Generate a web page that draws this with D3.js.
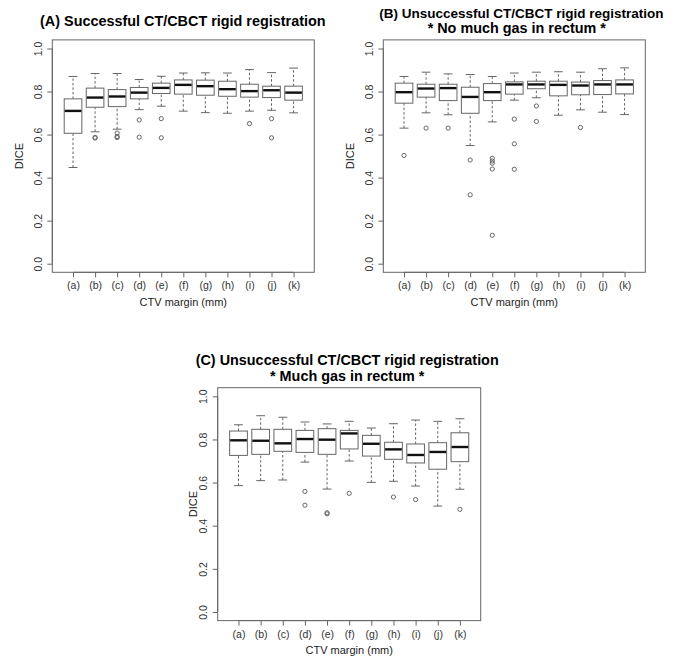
<!DOCTYPE html>
<html>
<head>
<meta charset="utf-8">
<script src="https://cdn.jsdelivr.net/npm/d3@7"></script>
<style>
  html, body { margin: 0; padding: 0; background: #fff; }
  svg { display: block; font-family: "Liberation Sans", Arial, Helvetica, sans-serif; }
</style>
</head>
<body>
<svg id="chart" width="680" height="662"></svg>
<script>
// ---- data ----
const categories = ["(a)", "(b)", "(c)", "(d)", "(e)", "(f)", "(g)", "(h)", "(i)", "(j)", "(k)"];
const yTicks = [0.0, 0.2, 0.4, 0.6, 0.8, 1.0];
const xLabel = "CTV margin (mm)";
const yLabel = "DICE";

// [lower whisker, Q1, median, Q3, upper whisker]
const statsA = [
  [0.447, 0.606, 0.710, 0.766, 0.870],
  [0.613, 0.727, 0.772, 0.816, 0.884],
  [0.625, 0.730, 0.777, 0.809, 0.884],
  [0.716, 0.766, 0.795, 0.819, 0.856],
  [0.732, 0.791, 0.817, 0.839, 0.871],
  [0.709, 0.788, 0.831, 0.854, 0.886],
  [0.702, 0.783, 0.825, 0.853, 0.887],
  [0.699, 0.778, 0.811, 0.848, 0.886],
  [0.709, 0.774, 0.802, 0.834, 0.902],
  [0.713, 0.772, 0.806, 0.825, 0.888],
  [0.701, 0.760, 0.795, 0.825, 0.909]
];
const outliersA = [
  [], [0.587, 0.584], [0.607, 0.591, 0.586], [0.668, 0.588], [0.674, 0.585],
  [], [], [], [0.651], [0.674, 0.585], []
];

const statsB = [
  [0.630, 0.746, 0.797, 0.839, 0.870],
  [0.701, 0.774, 0.814, 0.834, 0.890],
  [0.692, 0.758, 0.816, 0.834, 0.882],
  [0.549, 0.699, 0.775, 0.820, 0.879],
  [0.659, 0.758, 0.797, 0.837, 0.870],
  [0.760, 0.788, 0.833, 0.845, 0.886],
  [0.771, 0.813, 0.833, 0.848, 0.890],
  [0.690, 0.780, 0.831, 0.848, 0.892],
  [0.715, 0.785, 0.828, 0.844, 0.890],
  [0.704, 0.786, 0.833, 0.851, 0.906],
  [0.693, 0.789, 0.833, 0.854, 0.910]
];
const outliersB = [
  [0.503], [0.630], [0.630], [0.482, 0.320], [0.490, 0.477, 0.467, 0.440, 0.132],
  [0.672, 0.557, 0.439], [0.733, 0.661], [], [0.633], [], []
];

const statsC = [
  [0.586, 0.726, 0.796, 0.839, 0.868],
  [0.609, 0.731, 0.794, 0.847, 0.910],
  [0.612, 0.745, 0.782, 0.847, 0.903],
  [0.695, 0.740, 0.802, 0.842, 0.881],
  [0.570, 0.731, 0.799, 0.850, 0.872],
  [0.700, 0.756, 0.828, 0.842, 0.884],
  [0.601, 0.723, 0.780, 0.819, 0.853],
  [0.606, 0.708, 0.754, 0.787, 0.873],
  [0.584, 0.691, 0.728, 0.779, 0.890],
  [0.491, 0.662, 0.742, 0.785, 0.884],
  [0.569, 0.697, 0.765, 0.831, 0.896]
];
const outliersC = [
  [], [], [], [0.559, 0.495], [0.460, 0.455], [0.550], [], [0.533], [0.521], [], [0.476]
];

const titlesA = ["(A) Successful CT/CBCT rigid registration"];
const titlesB = ["(B) Unsuccessful CT/CBCT rigid registration", "* No much gas in rectum *"];
const titlesC = ["(C) Unsuccessful CT/CBCT rigid registration", "* Much gas in rectum *"];

// ---- layout ----
const panels = [
  { stats: statsA, outliers: outliersA, titles: titlesA, left: 52.3, right: 314.3, top: 39.9, bottom: 272.3,
    titleBase: [26], titleSize: [14.4], titleShift: [-0.5], diceOff: 29.6 },
  { stats: statsB, outliers: outliersB, titles: titlesB, left: 383.3, right: 645.3, top: 39.9, bottom: 272.3,
    titleBase: [18.3, 33.3], titleSize: [13.5, 14.4], titleShift: [7, 2.5], diceOff: 29.3 },
  { stats: statsC, outliers: outliersC, titles: titlesC, left: 217.7, right: 480.7, top: 387.7, bottom: 620.6,
    titleBase: [365, 380.5], titleSize: [14.4, 14.4], titleShift: [-2, -2], diceOff: 21 }
];

const svg = d3.select("#chart");
const boxColor = "#666";
const frameColor = "#666";

panels.forEach(p => {
  const g = svg.append("g");
  const x = d3.scaleLinear().domain([0.06, 11.94]).range([p.left, p.right]);
  const y = d3.scaleLinear().domain([-0.04, 1.04]).range([p.bottom, p.top]);
  const idx = d3.range(1, categories.length + 1);
  const step = x(2) - x(1);
  const bw = 0.8 * step;
  const cw = 0.5 * bw;

  const items = p.stats.map((s, i) => ({ s, i, cx: x(i + 1) }));
  // whiskers (dashed)
  g.selectAll(".wl").data(items).join("line")
    .attr("x1", d => d.cx).attr("x2", d => d.cx)
    .attr("y1", d => y(d.s[0])).attr("y2", d => y(d.s[1]))
    .attr("stroke", boxColor).attr("stroke-width", 1).attr("stroke-dasharray", "2.5,2");
  g.selectAll(".wu").data(items).join("line")
    .attr("x1", d => d.cx).attr("x2", d => d.cx)
    .attr("y1", d => y(d.s[3])).attr("y2", d => y(d.s[4]))
    .attr("stroke", boxColor).attr("stroke-width", 1).attr("stroke-dasharray", "2.5,2");
  // caps
  [0, 4].forEach(k => {
    g.selectAll(".cap" + k).data(items).join("line")
      .attr("x1", d => d.cx - cw / 2).attr("x2", d => d.cx + cw / 2)
      .attr("y1", d => y(d.s[k])).attr("y2", d => y(d.s[k]))
      .attr("stroke", boxColor).attr("stroke-width", 1);
  });
  // boxes
  g.selectAll(".box").data(items).join("rect")
    .attr("x", d => d.cx - bw / 2).attr("width", bw)
    .attr("y", d => y(d.s[3])).attr("height", d => y(d.s[1]) - y(d.s[3]))
    .attr("fill", "#fff").attr("stroke", boxColor).attr("stroke-width", 1);
  // medians
  g.selectAll(".med").data(items).join("line")
    .attr("x1", d => d.cx - bw / 2 + 0.5).attr("x2", d => d.cx + bw / 2 - 0.5)
    .attr("y1", d => y(d.s[2])).attr("y2", d => y(d.s[2]))
    .attr("stroke", "#111").attr("stroke-width", 2.4);
  // outliers
  const pts = [];
  p.outliers.forEach((arr, i) => arr.forEach(v => pts.push({ cx: x(i + 1), v })));
  g.selectAll(".out").data(pts).join("circle")
    .attr("cx", d => d.cx).attr("cy", d => y(d.v)).attr("r", 2.1)
    .attr("fill", "none").attr("stroke", boxColor).attr("stroke-width", 1);

  // frame
  g.append("rect")
    .attr("x", p.left).attr("y", p.top)
    .attr("width", p.right - p.left).attr("height", p.bottom - p.top)
    .attr("fill", "none").attr("stroke", frameColor).attr("stroke-width", 1);

  // x axis
  const xAxis = d3.axisBottom(x).tickValues(idx).tickFormat(d => categories[d - 1])
    .tickSize(5).tickSizeOuter(0);
  const xa = g.append("g").attr("transform", `translate(0,${p.bottom})`).call(xAxis);
  xa.select(".domain").attr("d", `M${x(1)},0H${x(11)}`).attr("stroke", frameColor);
  xa.selectAll(".tick line").attr("stroke", frameColor);
  xa.selectAll(".tick text").attr("y", 17).attr("dy", null)
    .attr("font-size", 10.5).attr("fill", "#333")
    .attr("font-family", "Liberation Sans, Arial, sans-serif");

  // y axis
  const yAxis = d3.axisLeft(y).tickValues(yTicks).tickFormat(d3.format(".1f"))
    .tickSize(5).tickSizeOuter(0);
  const ya = g.append("g").attr("transform", `translate(${p.left},0)`).call(yAxis);
  ya.select(".domain").attr("d", `M0,${y(0)}V${y(1)}`).attr("stroke", frameColor);
  ya.selectAll(".tick line").attr("stroke", frameColor);
  ya.selectAll(".tick text")
    .attr("x", null).attr("dy", null)
    .attr("transform", "translate(-10.6,0) rotate(-90)")
    .attr("text-anchor", "middle")
    .attr("font-size", 10.5).attr("fill", "#333")
    .attr("font-family", "Liberation Sans, Arial, sans-serif");

  // axis labels
  const cxm = (p.left + p.right) / 2;
  g.append("text").attr("x", cxm).attr("y", p.bottom + 33.2)
    .attr("text-anchor", "middle").attr("font-size", 11).attr("fill", "#222").text(xLabel);
  const cym = (p.top + p.bottom) / 2;
  g.append("text")
    .attr("transform", `translate(${p.left - p.diceOff},${cym}) rotate(-90)`)
    .attr("text-anchor", "middle").attr("font-size", 11).attr("fill", "#222").text(yLabel);

  // titles
  p.titles.forEach((t, k) => {
    g.append("text").attr("x", cxm + p.titleShift[k]).attr("y", p.titleBase[k])
      .attr("text-anchor", "middle").attr("font-size", p.titleSize[k])
      .attr("font-weight", "bold").attr("fill", "#000").text(t);
  });
});
</script>
</body>
</html>
